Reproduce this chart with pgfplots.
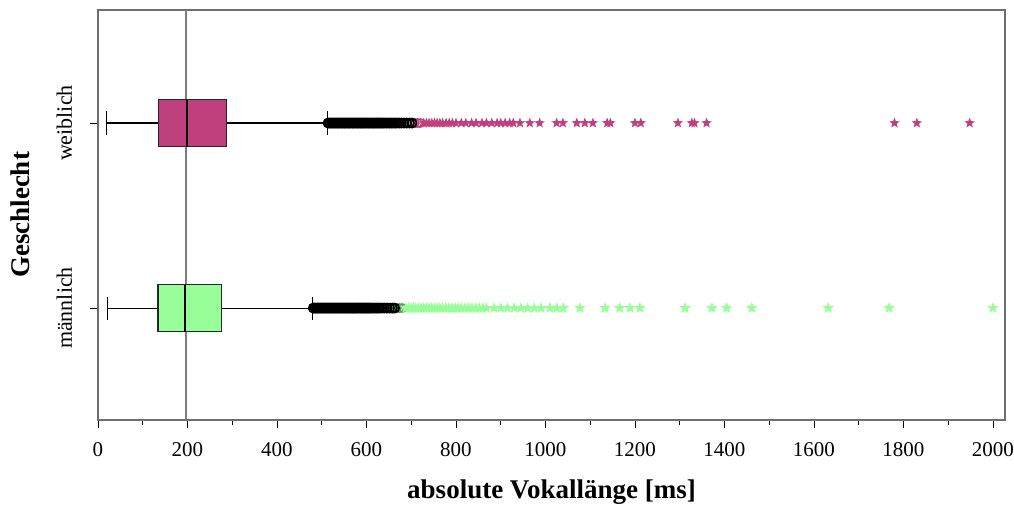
\documentclass[border=0pt]{standalone}
\usepackage{fontspec}
\setmainfont{Liberation Serif}
\usepackage{pgfplots}
\pgfplotsset{compat=1.18}
\usepgfplotslibrary{statistics}
\definecolor{wpink}{RGB}{190,64,124}
\definecolor{mgreen}{RGB}{152,255,152}
\definecolor{framegray}{RGB}{110,110,110}
\pgfdeclareplotmark{fstar}{%
  \pgfpathmoveto{\pgfpointpolar{90}{\pgfplotmarksize}}%
  \pgfpathlineto{\pgfpointpolar{126}{0.42\pgfplotmarksize}}%
  \pgfpathlineto{\pgfpointpolar{162}{\pgfplotmarksize}}%
  \pgfpathlineto{\pgfpointpolar{198}{0.42\pgfplotmarksize}}%
  \pgfpathlineto{\pgfpointpolar{234}{\pgfplotmarksize}}%
  \pgfpathlineto{\pgfpointpolar{270}{0.42\pgfplotmarksize}}%
  \pgfpathlineto{\pgfpointpolar{306}{\pgfplotmarksize}}%
  \pgfpathlineto{\pgfpointpolar{342}{0.42\pgfplotmarksize}}%
  \pgfpathlineto{\pgfpointpolar{18}{\pgfplotmarksize}}%
  \pgfpathlineto{\pgfpointpolar{54}{0.42\pgfplotmarksize}}%
  \pgfpathclose
  \pgfusepathqfill}
\begin{document}
\begin{tikzpicture}
\useasboundingbox (-98pt,-86pt) rectangle (916pt,420pt);
\begin{axis}[
  at={(0pt,0pt)}, anchor=south west,
  scale only axis, width=907pt, height=410pt,
  xmin=0, xmax=2027, ymin=0.395, ymax=2.611,
  xtick={0,200,...,2000}, minor xtick={100,300,...,1900},
  ytick={1,2}, yticklabels={männlich,weiblich},
  tick align=outside, major tick length=8pt, minor tick length=5pt,
  tick style={black, line width=0.8pt},
  xtick pos=bottom, ytick pos=left,
  axis line style={framegray, line width=1.6pt},
  /pgf/number format/assume math mode=true,
  /pgf/number format/set thousands separator={},
  xticklabel style={font=\fontsize{21}{24}\selectfont, anchor=base, yshift=-28pt},
  yticklabel style={font=\fontsize{22}{26}\selectfont, xshift=-18pt, rotate=90, anchor=base},
  every axis x label/.style={at={([yshift=-72pt]axis description cs:0.5,0)}, anchor=center, font=\fontsize{27}{30}\selectfont\bfseries},
  every axis y label/.style={at={([xshift=-78pt]axis description cs:0,0.5)}, rotate=90, anchor=center, font=\fontsize{27}{30}\selectfont\bfseries},
  xlabel={absolute Vokallänge [ms]},
  ylabel={Geschlecht},
  boxplot/box extend=0.254,
  boxplot/whisker extend=0.125,
  clip=false,
]
% reference line
\addplot[framegray!90, line width=1.6pt, forget plot] coordinates {(196,0.395) (196,2.611)};
% maennlich
\addplot[boxplot prepared={draw position=1, lower whisker=22, lower quartile=134, median=194, upper quartile=275, upper whisker=480},
  fill=mgreen, draw=black!85, line width=1.1pt,
  boxplot/every whisker/.style={black, line width=1.1pt},
  boxplot/every median/.style={black, line width=2pt}] coordinates {};
% weiblich
\addplot[boxplot prepared={draw position=2, lower whisker=18, lower quartile=136, median=198, upper quartile=288, upper whisker=512},
  fill=wpink, draw=black!85, line width=1.1pt,
  boxplot/every whisker/.style={black, line width=1.1pt},
  boxplot/every median/.style={black, line width=2pt}] coordinates {};
% outlier circles maennlich (green, near the end)
\addplot[only marks, mark=o, mark size=4.2pt, mgreen!60!black, line width=1.4pt] coordinates {
(668,1)(674,1)(680,1)};
% outlier circles maennlich (black)
\addplot[only marks, mark=o, mark size=4.5pt, black, line width=1.8pt] coordinates {
(481,1)(484,1)(487,1)(490,1)(493,1)(496,1)(499,1)(502,1)(505,1)(508,1)(511,1)(514,1)(517,1)(520,1)(523,1)(526,1)(529,1)(532,1)(535,1)(538,1)(541,1)(544,1)(547,1)(550,1)(553,1)(556,1)(559,1)(562,1)(565,1)(568,1)(571,1)(574,1)(577,1)(580,1)(583,1)(586,1)(589,1)(592,1)(595,1)(598,1)(601,1)(604,1)(607,1)(610,1)(614,1)(618,1)(622,1)(626,1)(630,1)(635,1)(640,1)(646,1)(652,1)(658,1)(663,1)};
% extreme stars maennlich
\addplot[only marks, mark=fstar, mark size=6pt, mgreen] coordinates {
(688,1)(694,1)(700,1)(705,1)(710,1)(716,1)(722,1)(728,1)(734,1)(740,1)(746,1)(752,1)(758,1)(764,1)(770,1)(777,1)(784,1)(791,1)(798,1)(805,1)(812,1)(820,1)(828,1)(836,1)(844,1)(852,1)(860,1)(868,1)(885,1)(900,1)(915,1)(930,1)(945,1)(960,1)(975,1)(990,1)(1010,1)(1025,1)(1040,1)(1077,1)(1133,1)(1166,1)(1189,1)(1211,1)(1312,1)(1372,1)(1405,1)(1461,1)(1632,1)(1768,1)(2000,1)};
% outlier circles weiblich (pink)
\addplot[only marks, mark=o, mark size=4.2pt, wpink, line width=1.4pt] coordinates {
(708,2)(714,2)(720,2)};
% outlier circles weiblich (black)
\addplot[only marks, mark=o, mark size=4.5pt, black, line width=1.8pt] coordinates {
(514,2)(517,2)(520,2)(523,2)(526,2)(529,2)(532,2)(535,2)(538,2)(541,2)(544,2)(547,2)(550,2)(553,2)(556,2)(559,2)(562,2)(565,2)(568,2)(571,2)(574,2)(577,2)(580,2)(583,2)(586,2)(589,2)(592,2)(595,2)(598,2)(601,2)(604,2)(607,2)(610,2)(613,2)(616,2)(619,2)(622,2)(625,2)(628,2)(631,2)(634,2)(637,2)(640,2)(644,2)(648,2)(652,2)(656,2)(660,2)(664,2)(668,2)(673,2)(678,2)(684,2)(690,2)(696,2)(702,2)};
% extreme stars weiblich
\addplot[only marks, mark=fstar, mark size=5.5pt, wpink] coordinates {
(728,2)(734,2)(740,2)(746,2)(752,2)(758,2)(764,2)(770,2)(778,2)(785,2)(792,2)(800,2)(812,2)(822,2)(835,2)(845,2)(858,2)(868,2)(880,2)(892,2)(900,2)(910,2)(920,2)(928,2)(943,2)(965,2)(987,2)(1025,2)(1039,2)(1070,2)(1088,2)(1106,2)(1138,2)(1145,2)(1200,2)(1213,2)(1296,2)(1327,2)(1333,2)(1360,2)(1780,2)(1830,2)(1948,2)};
\end{axis}
\end{tikzpicture}
\end{document}
